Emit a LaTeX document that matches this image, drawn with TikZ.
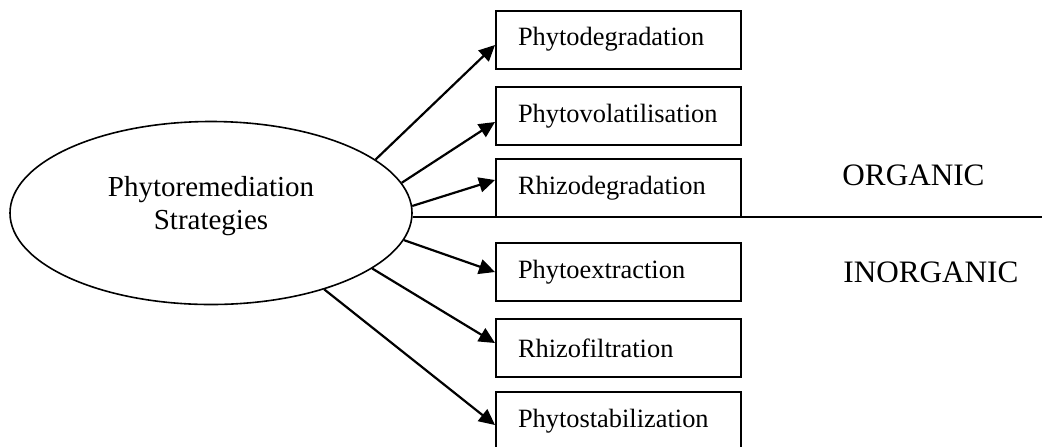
\documentclass[tikz,border=0pt]{standalone}
\usepackage{fontspec}
\setmainfont{Liberation Serif}
\usetikzlibrary{arrows.meta,shapes.geometric}

\begin{document}
\begin{tikzpicture}[
    >={Triangle[length=8pt,width=7.5pt]},
    x=0.5pt, y=-0.5pt, % 按像素坐标作图
    method/.style={draw, line width=1pt, text width=100.5pt, inner xsep=11pt,
        minimum height=29pt, align=left, font=\fontsize{13.2}{15}\selectfont},
    link/.style={->, line width=1.1pt},
    group/.style={anchor=west, inner sep=0pt, font=\fontsize{15.6}{18}\selectfont}
]
\useasboundingbox (0,0) rectangle (1042,446);

% ========== 左侧：椭圆 ==========
\node[draw, ellipse, line width=0.8pt, minimum width=201pt, minimum height=91.5pt, inner sep=0pt,
    label={[align=center, yshift=3.5pt, font=\fontsize{14.5}{16.5}\selectfont]center:Phytoremediation\\Strategies}]
    (strat) at (211,213) {};

% ========== 右侧：六种方法 ==========
\node[method] (pdeg) at (618.5,39.5) {Phytodegradation}; % 有机
\node[method] (pvol) at (618.5,116) {Phytovolatilisation};
\node[method] (rdeg) at (618.5,188) {Rhizodegradation};
\node[method] (pext) at (618.5,272) {Phytoextraction}; % 无机
\node[method] (rfil) at (618.5,348) {Rhizofiltration};
\node[method] (psta) at (618.5,421) {Phytostabilization};

% 箭头（终点略错开）
\draw[link] (strat.18.4) -- ([yshift=-2.75pt]pdeg.west);
\draw[link] (strat.9.9) -- ([yshift=-3pt]pvol.west);
\draw[link] (strat.2) -- ([yshift=4pt]rdeg.west);
\draw[link] (strat.-8.9) -- (pext.west);
\draw[link] (strat.-19.2) -- ([yshift=2.5pt]rfil.west);
\draw[link] (strat.-34.5) -- ([yshift=-2pt]psta.west);

% 分隔线
\coordinate (cut) at (1042,217);
\draw[line width=1pt] (strat.east |- cut) -- (cut);

% 分组标签
\node[group] (org) at (842,175) {ORGANIC};
\node[group] (inorg) at (843,272) {INORGANIC};

\end{tikzpicture}
\end{document}
